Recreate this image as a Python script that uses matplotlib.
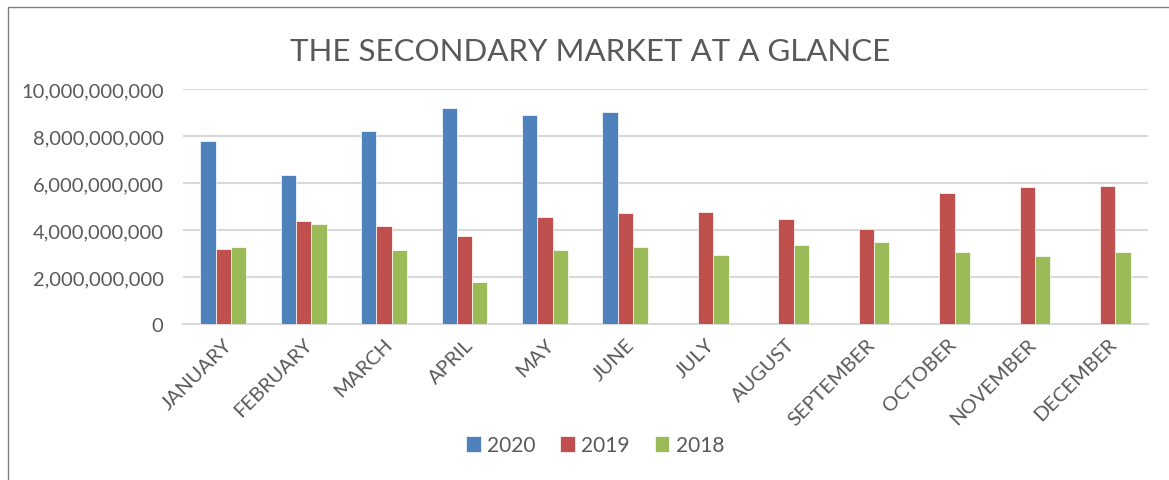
import numpy as np
import matplotlib.pyplot as plt
from matplotlib.patches import Rectangle
from matplotlib.ticker import FuncFormatter

months = ["JANUARY", "FEBRUARY", "MARCH", "APRIL", "MAY", "JUNE", "JULY",
          "AUGUST", "SEPTEMBER", "OCTOBER", "NOVEMBER", "DECEMBER"]
# values in billions
y2020 = [7.78, 6.36, 8.21, 9.18, 8.89, 9.03, 0, 0, 0, 0, 0, 0]
y2019 = [3.21, 4.40, 4.16, 3.73, 4.57, 4.71, 4.78, 4.46, 4.03, 5.59, 5.84, 5.86]
y2018 = [3.29, 4.24, 3.13, 1.78, 3.15, 3.28, 2.95, 3.35, 3.48, 3.05, 2.89, 3.08]
years = ["2020", "2019", "2018"]
colors = ["#4f81bd", "#c0504d", "#9bbb59"]

plt.rcParams['font.family'] = ['Lato', 'DejaVu Sans']
txt = "#595959"

fig = plt.figure(figsize=(11.69, 4.81), dpi=100)
ax = fig.add_axes([183 / 1169, 1 - 325 / 481, (1148 - 183) / 1169, (325 - 90) / 481])

x = np.arange(len(months))
w = 0.19
for i, (vals, lab, c) in enumerate(zip([y2020, y2019, y2018], years, colors)):
    ax.bar(x + (i - 1) * w, np.array(vals) * 1e9, w, color=c, label=lab,
           edgecolor="white", linewidth=0.5, zorder=3)

ax.set_xlim(-0.5, 11.5)
ax.set_ylim(0, 1e10)
ax.set_yticks(np.arange(0, 1.01e10, 2e9))
ax.yaxis.set_major_formatter(FuncFormatter(lambda v, p: f"{v:,.0f}"))
ax.grid(axis="y", color="#d9d9d9", linewidth=1.5, zorder=0)
for s in ["top", "right", "left"]:
    ax.spines[s].set_visible(False)
ax.spines["bottom"].set_color("#d9d9d9")
ax.spines["bottom"].set_linewidth(1.5)
ax.tick_params(length=0, colors=txt, labelsize=14.5)
ax.tick_params(axis="y", pad=14)
ax.tick_params(axis="x", pad=8)
ax.set_xticks(x)
ax.set_xticklabels(months, rotation=45, ha="right", rotation_mode="anchor",
                   fontsize=14.5, color=txt)

fig.suptitle("THE SECONDARY MARKET AT A GLANCE", x=590 / 1169, y=1 - 52 / 481,
             va="center", fontsize=22.5, color=txt)

ax.legend(loc="center", bbox_to_anchor=(595 / 1169, 1 - 446 / 481),
          bbox_transform=fig.transFigure, ncol=3, frameon=False, fontsize=15,
          handlelength=0.7, handleheight=0.8, handletextpad=0.3, columnspacing=1.2,
          labelcolor=txt)

fig.patches.append(Rectangle((8 / 1169, -0.1), 1.2, 1 - 8 / 481 + 0.1,
                             transform=fig.transFigure, fill=False,
                             edgecolor="#7f7f7f", linewidth=1))

fig.savefig("out.png", dpi=100)
